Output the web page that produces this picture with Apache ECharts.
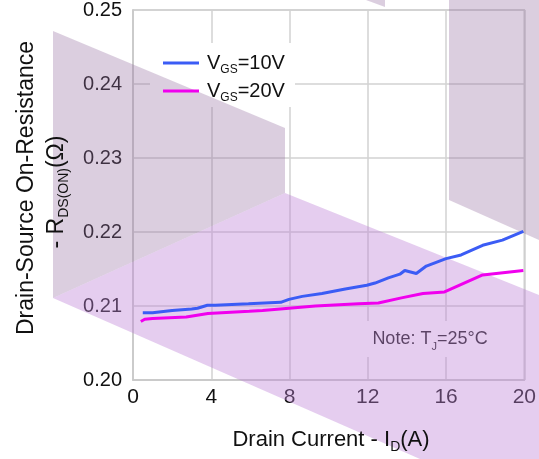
<!DOCTYPE html>
<html>
<head>
<meta charset="utf-8">
<script src="https://cdn.jsdelivr.net/npm/echarts@6/dist/echarts.min.js"></script>
<style>html,body{margin:0;padding:0;background:#fff}#c{width:539px;height:459px}</style>
</head>
<body>
<div id="c"></div>
<script>
// ---- data ----
const xTicks = [0, 4, 8, 12, 16, 20];
const yTicks = ['0.20', '0.21', '0.22', '0.23', '0.24', '0.25'];
const seriesNames = ['VGS=10V', 'VGS=20V'];
const idBlue = [0.5, 1, 2, 3, 3.3, 3.8, 4.2, 5.9, 7.55, 7.97, 8.65, 9.66, 10.85, 11.95, 12.37, 13.05, 13.64, 13.89, 14.48, 14.99, 16.0, 16.77, 17.87, 18.88, 19.95];
const rBlue  = [0.2091, 0.2091, 0.2094, 0.2096, 0.2097, 0.2101, 0.2101, 0.2103, 0.2105, 0.2109, 0.2113, 0.2117, 0.2123, 0.2128, 0.2131, 0.2138, 0.2143, 0.2148, 0.2144, 0.2154, 0.2164, 0.2169, 0.2182, 0.2189, 0.2201];
const idPink = [0.4, 0.6, 1, 2.72, 3.83, 5.94, 6.62, 7.97, 9.32, 11.52, 12.54, 13.72, 14.82, 15.92, 17.87, 19.95];
const rPink  = [0.2079, 0.2082, 0.2083, 0.2085, 0.2090, 0.2093, 0.2094, 0.2097, 0.2100, 0.2103, 0.2104, 0.2111, 0.2117, 0.2119, 0.2142, 0.2148];

const FONT = '"Liberation Sans", Arial, sans-serif';
const chart = echarts.init(document.getElementById('c'), null, {renderer: 'canvas'});

function pairs(xs, ys) { return xs.map((x, i) => [x, ys[i]]); }

const gray = 'rgba(150,110,160,0.34)';
const pink = 'rgba(190,130,215,0.40)';

chart.setOption({
  backgroundColor: '#fff',
  animation: false,
  grid: {left: 133, right: 12, top: 8, bottom: 79, show: true, borderColor: '#c8c8c8', borderWidth: 1.5},
  xAxis: {
    type: 'value', min: 0, max: 20, interval: 4,
    axisLine: {show: true, lineStyle: {color: '#c8c8c8', width: 1.5}},
    axisTick: {show: false},
    splitLine: {show: true, lineStyle: {color: '#d2d2d2', width: 1.5}},
    axisLabel: {color: '#111', fontSize: 21, fontFamily: FONT, margin: 7,
      formatter: v => xTicks.includes(v) ? String(v) : ''}
  },
  yAxis: {
    type: 'value', min: 0.20, max: 0.25, interval: 0.01,
    axisLine: {show: true, lineStyle: {color: '#c8c8c8', width: 1.5}},
    axisTick: {show: false},
    splitLine: {show: true, lineStyle: {color: '#d2d2d2', width: 1.5}},
    axisLabel: {color: '#111', fontSize: 20, fontFamily: FONT, margin: 11,
      formatter: v => yTicks[Math.round((v - 0.20) * 100)] || ''}
  },
  legend: {
    left: 158, top: 48, orient: 'vertical', itemWidth: 36, itemHeight: 3, itemGap: 5, z: 8,
    icon: 'rect',
    data: seriesNames,
    formatter: n => '{v|V}{s|GS}{v|' + n.slice(3) + '}',
    textStyle: {fontFamily: FONT, color: '#111', padding: [0, 0, 0, 3],
      rich: {v: {fontSize: 20, fontFamily: FONT, color: '#111'},
             s: {fontSize: 12, fontFamily: FONT, color: '#111', verticalAlign: 'bottom', padding: [0, 0, -3, 0]}}}
  },
  series: [
    {name: seriesNames[0], type: 'line', data: pairs(idBlue, rBlue), showSymbol: false, z: 6,
     lineStyle: {color: '#3b5cf5', width: 3}, itemStyle: {color: '#3b5cf5'}},
    {name: seriesNames[1], type: 'line', data: pairs(idPink, rPink), showSymbol: false, z: 6,
     lineStyle: {color: '#f000ee', width: 3}, itemStyle: {color: '#f000ee'}}
  ],
  graphic: [
    // white boxes behind legend and note (hide grid lines)
    {type: 'rect', z: 1, shape: {x: 150, y: 43, width: 145, height: 64}, style: {fill: '#fff'}},
    {type: 'text', z: 1, x: 430, y: 339,
     style: {text: '{n|Note: T}{s|J}{n|=25°C}', align: 'center', verticalAlign: 'middle',
       backgroundColor: '#fff', padding: [9, 10, 9, 10],
       rich: {n: {fontSize: 18, fontFamily: FONT, fill: '#1a1a1a'},
              s: {fontSize: 11, fontFamily: FONT, fill: '#1a1a1a', verticalAlign: 'bottom', padding: [0, 0, -4, 0]}}}},
    // decorative translucent overlays
    {type: 'polygon', z: 2, shape: {points: [[53, 31], [285, 128], [285, 193], [53, 298]]}, style: {fill: gray}},
    {type: 'polygon', z: 2, shape: {points: [[53, 298], [285, 193], [539, 295], [539, 459], [420, 459]]}, style: {fill: pink}},
    {type: 'polygon', z: 2, shape: {points: [[449, 0], [539, 0], [539, 240], [449, 200]]}, style: {fill: gray}},
    {type: 'polygon', z: 2, shape: {points: [[366, 0], [385, 0], [385, 7]]}, style: {fill: gray}},
    // axis titles
    {type: 'text', z: 7, x: 331, y: 440,
     style: {text: '{n|Drain Current - I}{s|D}{n|(A)}', align: 'center', verticalAlign: 'middle',
       rich: {n: {fontSize: 22, fontFamily: FONT, fill: '#111'},
              s: {fontSize: 14, fontFamily: FONT, fill: '#111', verticalAlign: 'bottom', padding: [0, 0, -3, 0]}}}},
    {type: 'text', z: 7, x: 27, y: 188, rotation: Math.PI / 2,
     style: {text: 'Drain-Source On-Resistance', align: 'center', verticalAlign: 'middle',
       fontSize: 23, fontFamily: FONT, fill: '#111'}},
    {type: 'text', z: 7, x: 57, y: 192, rotation: Math.PI / 2,
     style: {text: '{n|- R}{s|DS(ON)}{n|(Ω)}', align: 'center', verticalAlign: 'middle',
       rich: {n: {fontSize: 23, fontFamily: FONT, fill: '#111'},
              s: {fontSize: 14, fontFamily: FONT, fill: '#111', verticalAlign: 'bottom', padding: [0, 0, -3, 0]}}}}
  ]
});
</script>
</body>
</html>
